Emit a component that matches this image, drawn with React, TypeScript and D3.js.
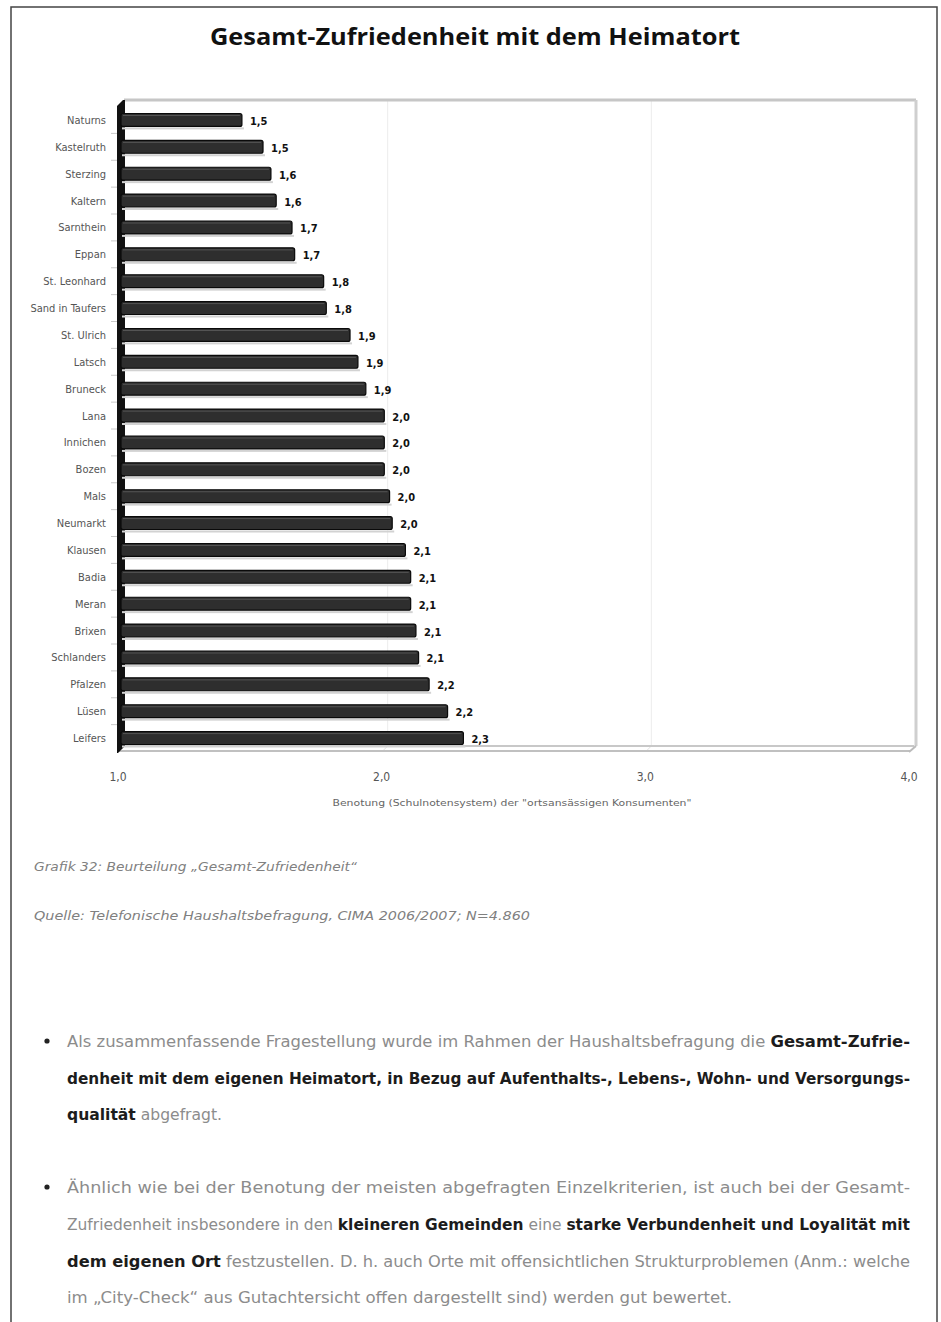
import React from "react";
import * as d3 from "d3";

const towns = [
  "Naturns", "Kastelruth", "Sterzing", "Kaltern", "Sarnthein", "Eppan",
  "St. Leonhard", "Sand in Taufers", "St. Ulrich", "Latsch", "Bruneck", "Lana",
  "Innichen", "Bozen", "Mals", "Neumarkt", "Klausen", "Badia", "Meran",
  "Brixen", "Schlanders", "Pfalzen", "Lüsen", "Leifers",
];
const scores = [
  1.47, 1.55, 1.58, 1.6, 1.66, 1.67, 1.78, 1.79, 1.88, 1.91, 1.94, 2.01,
  2.01, 2.01, 2.03, 2.04, 2.09, 2.11, 2.11, 2.13, 2.14, 2.18, 2.25, 2.31,
];
const scoreLabels = [
  "1,5", "1,5", "1,6", "1,6", "1,7", "1,7", "1,8", "1,8", "1,9", "1,9", "1,9", "2,0",
  "2,0", "2,0", "2,0", "2,0", "2,1", "2,1", "2,1", "2,1", "2,1", "2,2", "2,2", "2,3",
];
const xTicks = [1, 2, 3, 4];

const chartFont = "'Liberation Sans Narrow', 'DejaVu Sans Condensed', 'Liberation Sans', sans-serif";
const textFont = "'Liberation Sans Narrow', 'DejaVu Sans Condensed', 'Noto Sans', sans-serif";

// paragraph lines: [text, bold] segments, target width
const paragraphs = [
  [
    { y: 1047, w: 843, segs: [["Als zusammenfassende Fragestellung wurde im Rahmen der Haushaltsbefragung die ", false], ["Gesamt-Zufrie-", true]] },
    { y: 1084, w: 843, segs: [["denheit mit dem eigenen Heimatort, in Bezug auf Aufenthalts-, Lebens-, Wohn- und Versorgungs-", true]] },
    { y: 1120, w: 155, segs: [["qualität", true], [" abgefragt.", false]] },
  ],
  [
    { y: 1193, w: 843, segs: [["Ähnlich wie bei der Benotung der meisten abgefragten Einzelkriterien, ist auch bei der Gesamt-", false]] },
    { y: 1230, w: 843, segs: [["Zufriedenheit insbesondere in den ", false], ["kleineren Gemeinden", true], [" eine ", false], ["starke Verbundenheit und Loyalität mit", true]] },
    { y: 1267, w: 843, segs: [["dem eigenen Ort", true], [" festzustellen. D. h. auch Orte mit offensichtlichen Strukturproblemen (Anm.: welche", false]] },
    { y: 1303, w: 665, segs: [["im „City-Check“ aus Gutachtersicht offen dargestellt sind) werden gut bewertet.", false]] },
  ],
];

export default function App() {
  const x = d3.scaleLinear().domain([1, 4]).range([118, 909]);
  const y = d3.scaleBand().domain(towns).range([106.5, 751.5]).paddingInner(0.52).paddingOuter(0.26);
  const bh = y.bandwidth();
  const top = 100;
  const floor = 746;
  const depth = 6;

  return (
    <svg width={941} height={1322} style={{ position: "absolute", left: 0, top: 0, background: "#fff" }}>
      <rect x={11} y={7} width={926} height={1330} fill="none" stroke="#444" strokeWidth={1.5} />

      <text x={475} y={45} textAnchor="middle" fontFamily="'Open Sans', 'DejaVu Sans', sans-serif"
        fontWeight="bold" fontSize={23} textLength={530} lengthAdjust="spacingAndGlyphs" fill="#111">
        Gesamt-Zufriedenheit mit dem Heimatort
      </text>

      {/* back wall gridlines */}
      {xTicks.slice(1, 3).map((t) => (
        <g key={t}>
          <line x1={x(t) + depth} x2={x(t) + depth} y1={top} y2={floor} stroke="#ececec" />
          <line x1={x(t)} x2={x(t) + depth} y1={floor + 6} y2={floor} stroke="#e2e2e2" />
        </g>
      ))}
      {/* plot frame */}
      <line x1={124} x2={916} y1={top} y2={top} stroke="#c6c6c6" strokeWidth={3} />
      <line x1={916} x2={916} y1={top} y2={floor} stroke="#cfcfcf" strokeWidth={3} />
      <line x1={120} x2={914} y1={floor} y2={floor} stroke="#c8c8c8" strokeWidth={2} />
      <line x1={118} x2={910} y1={floor + 5} y2={floor + 5} stroke="#c0c0c0" strokeWidth={2} />
      <line x1={916} x2={909} y1={floor} y2={floor + 6} stroke="#bbb" strokeWidth={2} />
      {/* left wall */}
      <path d={`M117,106 L123,${top} L125,${top} L125,${floor} L118,${floor + 7} L117,${floor + 7} Z`} fill="#111" />
      {towns.slice(1).map((d) => (
        <line key={d} x1={111} x2={117} y1={(y(d) as number) - (y.step() * y.paddingInner()) / 2}
          y2={(y(d) as number) - (y.step() * y.paddingInner()) / 2} stroke="#c8c8c8" />
      ))}

      {/* bars */}
      {towns.map((d, i) => {
        const by = y(d) as number;
        const xe = x(scores[i]);
        return (
          <g key={d}>
            <rect x={122} y={by + bh + 1} width={xe - 120} height={2} fill="#d2d2d2" />
            <rect x={121} y={by} width={xe - 121} height={bh} rx={2} fill="#2e2e2e" stroke="#0a0a0a" strokeWidth={1.2} />
            <line x1={123} x2={xe - 2} y1={by + 2} y2={by + 2} stroke="#555" strokeWidth={1} />
            <text x={xe + 8} y={by + bh / 2 + 5} fontFamily={chartFont} fontWeight="bold" fontSize={11} fill="#111">
              {scoreLabels[i]}
            </text>
            <text x={106} y={by + bh / 2 + 4} textAnchor="end" fontFamily={chartFont} fontSize={11} fill="#555">
              {d}
            </text>
          </g>
        );
      })}

      {xTicks.map((t) => (
        <text key={t} x={x(t)} y={781} textAnchor="middle" fontFamily={chartFont} fontSize={12} fill="#555">
          {d3.format(".1f")(t).replace(".", ",")}
        </text>
      ))}
      <text x={512} y={806} textAnchor="middle" fontFamily={chartFont} fontSize={9} fill="#666"
        textLength={359} lengthAdjust="spacingAndGlyphs">
        Benotung (Schulnotensystem) der "ortsansässigen Konsumenten"
      </text>

      <text x={34} y={871} fontFamily={textFont} fontStyle="italic" fontSize={13} fill="#808080"
        textLength={323} lengthAdjust="spacingAndGlyphs">
        Grafik 32: Beurteilung „Gesamt-Zufriedenheit“
      </text>
      <text x={34} y={920} fontFamily={textFont} fontStyle="italic" fontSize={13} fill="#808080"
        textLength={496} lengthAdjust="spacingAndGlyphs">
        Quelle: Telefonische Haushaltsbefragung, CIMA 2006/2007; N=4.860
      </text>

      {paragraphs.map((p, pi) => (
        <g key={pi}>
          <circle cx={47} cy={p[0].y - 6} r={2.6} fill="#222" />
          {p.map((ln, li) => (
            <text key={li} x={67} y={ln.y} fontFamily={textFont} fontSize={16}
              textLength={ln.w} lengthAdjust="spacingAndGlyphs">
              {ln.segs.map(([s, b], si) => (
                <tspan key={si} fill={b ? "#1c1c1c" : "#8c8c8c"} fontWeight={b ? "bold" : "normal"}>{s as string}</tspan>
              ))}
            </text>
          ))}
        </g>
      ))}
    </svg>
  );
}
